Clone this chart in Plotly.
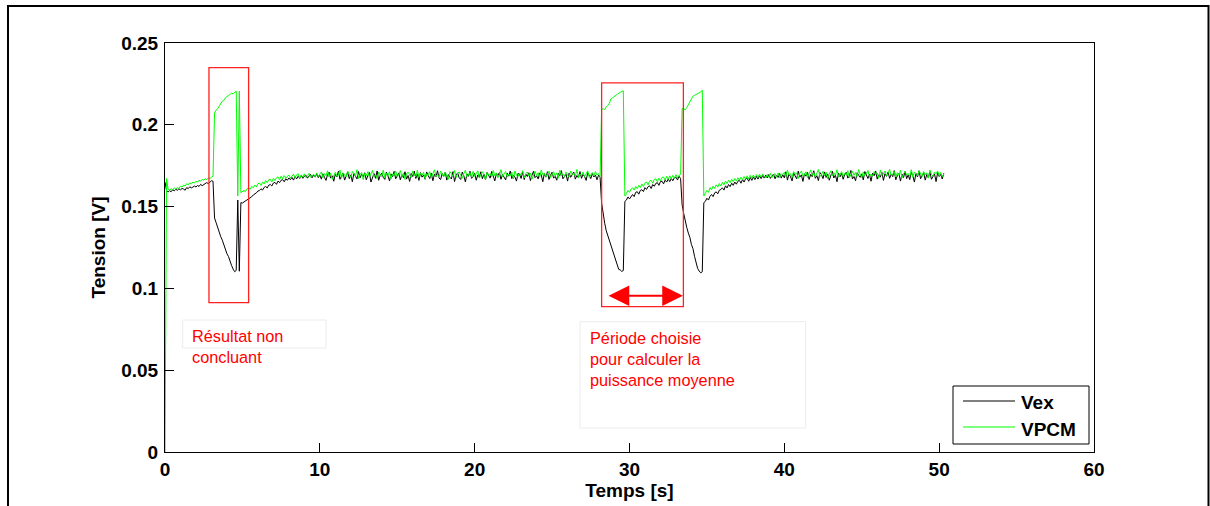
import plotly.graph_objects as go

# ---------------- data (units of 0.1 mV) ----------------
SAMPLE_STEP = 0.1  # seconds between samples

vex_01mV = [
    1650, 1598, 1590, 1597, 1591, 1603, 1596, 1606, 1600, 1609,
    1602, 1611, 1607, 1600, 1616, 1610, 1621, 1614, 1619, 1626,
    1620, 1629, 1623, 1636, 1628, 1633, 1641, 1647, 1640, 1652,
    1658, 1655,
    1430, 1402, 1368, 1350, 1316, 1295, 1262, 1240,
    1212, 1195, 1160, 1140, 1118, 1102, 1110, 1540, 1105, 1524,
    1522, 1528, 1533, 1541, 1548, 1556, 1560, 1571, 1577, 1584,
    1595, 1598, 1609, 1601, 1617, 1623, 1614, 1631, 1635, 1626,
    1644, 1648, 1636, 1656, 1647, 1661, 1665, 1652, 1670, 1661,
    1675, 1664, 1679, 1662, 1684, 1669, 1686, 1672, 1690, 1673,
    1686, 1692, 1674, 1689, 1697, 1676, 1693, 1680, 1700, 1677,
    1692, 1668, 1701, 1679, 1660, 1697, 1710, 1674, 1688, 1655,
    1699, 1681, 1716, 1667, 1690, 1705, 1662, 1684, 1712, 1671,
    1694, 1652, 1703, 1686, 1669, 1714, 1676, 1698, 1681, 1707,
    1664, 1689, 1709, 1650, 1683, 1702, 1673, 1718, 1661, 1691,
    1704, 1678, 1666, 1711, 1687, 1657, 1700, 1682, 1715, 1670,
    1688, 1706, 1663, 1695, 1677, 1713, 1668, 1690, 1654, 1703,
    1684, 1717, 1672, 1699, 1660, 1708, 1680, 1693, 1667, 1712,
    1689, 1671, 1705, 1658, 1697, 1683, 1719, 1675, 1665, 1702,
    1686, 1710, 1662, 1696, 1679, 1669, 1714, 1653, 1692, 1706,
    1676, 1666, 1711, 1688, 1651, 1700, 1685, 1716, 1673, 1684,
    1704, 1661, 1694, 1680, 1713, 1670, 1698, 1664, 1709, 1687,
    1674, 1715, 1682, 1657, 1701, 1690, 1708, 1667, 1696, 1678,
    1663, 1705, 1686, 1718, 1671, 1693, 1681, 1656, 1703, 1697,
    1672, 1712, 1665, 1699, 1684, 1707, 1659, 1691, 1716, 1677,
    1688, 1669, 1706, 1694, 1652, 1702, 1680, 1713, 1666, 1692,
    1710, 1674, 1685, 1661, 1704, 1689, 1720, 1670, 1687, 1698,
    1656, 1705, 1679, 1695, 1711, 1668, 1690, 1676, 1714, 1673,
    1697, 1683, 1660, 1708, 1688, 1671, 1703, 1681, 1693, 1664,
    1692, 1678,
    1520, 1445, 1398, 1352, 1322, 1290, 1272, 1236, 1203, 1168,
    1140, 1117, 1113, 1104, 1109, 1532,
    1540, 1559, 1547, 1565, 1574, 1561, 1587, 1591, 1576, 1599,
    1603, 1592, 1616, 1605, 1622, 1627, 1611, 1635, 1624, 1642,
    1646, 1630, 1653, 1655, 1639, 1662, 1650, 1668, 1653, 1673,
    1658, 1677, 1680, 1663, 1685, 1671,
    1510, 1458, 1402, 1372, 1338, 1312, 1268, 1243, 1196, 1152,
    1122, 1106, 1095, 1102, 1524,
    1532, 1551, 1540, 1563, 1574, 1561, 1584, 1590, 1578, 1600,
    1604, 1615, 1601, 1627, 1614, 1635, 1622, 1643, 1630, 1650,
    1637, 1655, 1661, 1643, 1666, 1650, 1670, 1673, 1655, 1678,
    1660, 1681, 1665, 1684, 1668, 1688, 1671, 1690, 1674, 1693,
    1675, 1696, 1672, 1689, 1699, 1670, 1692, 1678, 1702, 1674,
    1695,
    1676, 1713, 1662, 1698, 1684, 1657, 1705, 1690, 1670, 1717,
    1680, 1694, 1654, 1701, 1686, 1709, 1666, 1697, 1683, 1719,
    1673, 1689, 1659, 1708, 1695, 1671, 1712, 1678, 1699, 1661,
    1687, 1716, 1675, 1693, 1652, 1706, 1682, 1703, 1667, 1696,
    1710, 1674, 1688, 1721, 1669, 1684, 1658, 1707, 1692, 1679,
    1700, 1663, 1714, 1686, 1672, 1698, 1655, 1704, 1689, 1718,
    1668, 1694, 1680, 1709, 1660, 1701, 1685, 1711, 1673, 1697,
    1683, 1720, 1664, 1690, 1702, 1656, 1699, 1678, 1715, 1671,
    1693, 1665, 1710, 1687, 1650, 1703, 1681, 1719, 1670, 1691,
    1706, 1662, 1696, 1677, 1713, 1667, 1689, 1700, 1653, 1708,
    1684, 1697, 1669, 1704,
]

vpcm_01mV = [
    0, 1672, 1606, 1601, 1610, 1604, 1613, 1608, 1617, 1611,
    1625, 1619, 1632, 1626, 1640, 1633, 1645, 1638, 1650, 1644,
    1655, 1649, 1661, 1656, 1667, 1660, 1671, 1665, 1676, 1670,
    1681, 1686,
    2072, 2090, 2098, 2115, 2128, 2145, 2150, 2162,
    2174, 2178, 2185, 2194, 2190, 2200, 2205, 1565, 2205, 1585,
    1590, 1599, 1591, 1609, 1617, 1606, 1624, 1615, 1632, 1621,
    1640, 1644, 1629, 1651, 1638, 1660, 1646, 1664, 1668, 1651,
    1673, 1659, 1676, 1682, 1664, 1686, 1670, 1690, 1673, 1687,
    1693, 1674, 1690, 1698, 1676, 1695, 1701, 1674, 1694, 1680,
    1700, 1678, 1685, 1704, 1679, 1692, 1698, 1681, 1706, 1684,
    1698, 1712, 1676, 1701, 1689, 1719, 1680, 1705, 1667, 1694,
    1710, 1684, 1696, 1724, 1673, 1707, 1690, 1681, 1716, 1693,
    1678, 1715, 1700, 1686, 1726, 1671, 1697, 1709, 1665, 1703,
    1688, 1714, 1679, 1701, 1721, 1684, 1695, 1672, 1711, 1692,
    1685, 1723, 1675, 1704, 1690, 1713, 1668, 1699, 1694, 1718,
    1680, 1696, 1720, 1683, 1706, 1666, 1702, 1711, 1689, 1677,
    1716, 1693, 1682, 1722, 1679, 1705, 1691, 1710, 1670, 1700,
    1694, 1714, 1676, 1707, 1725, 1685, 1697, 1681, 1717, 1699,
    1683, 1711, 1692, 1667, 1714, 1696, 1686, 1720, 1677, 1704,
    1712, 1690, 1673, 1701, 1723, 1682, 1695, 1708, 1680, 1716,
    1685, 1703, 1719, 1674, 1698, 1713, 1691, 1665, 1709, 1694,
    1700, 1682, 1721, 1689, 1706, 1676, 1697, 1726, 1684, 1703,
    1715, 1680, 1699, 1688, 1710, 1669, 1718, 1693, 1683, 1705,
    1692, 1720, 1675, 1701, 1712, 1686, 1704, 1668, 1696, 1716,
    1689, 1707, 1679, 1724, 1694, 1702, 1682, 1699, 1717, 1677,
    1697, 1713, 1686, 1706, 1673, 1722, 1690, 1700, 1683, 1711,
    1693, 1681, 1718, 1696, 1703, 1685, 1727, 1676, 1699, 1690,
    1712, 1684, 1700, 1719, 1679, 1695, 1708, 1687, 1714, 1693,
    1701, 1683,
    2095, 2098, 2092, 2110, 2118, 2132, 2158, 2165, 2172, 2182,
    2190, 2193, 2199, 2204, 2208, 1565,
    1578, 1599, 1587, 1607, 1614, 1601, 1623, 1609, 1630, 1616,
    1638, 1623, 1645, 1650, 1633, 1656, 1661, 1643, 1666, 1670,
    1652, 1674, 1657, 1678, 1681, 1662, 1685, 1667, 1688, 1671,
    1691, 1673, 1695, 1676, 1692, 1697,
    2100, 2098, 2092, 2106, 2124, 2140, 2158, 2175, 2180, 2186,
    2190, 2194, 2201, 2212, 1565,
    1582, 1599, 1587, 1616, 1602, 1625, 1611, 1633, 1619, 1641,
    1626, 1648, 1633, 1656, 1640, 1662, 1646, 1667, 1652, 1672,
    1656, 1676, 1661, 1680, 1663, 1684, 1667, 1688, 1670, 1691,
    1673, 1693, 1676, 1695, 1679, 1698, 1680, 1700, 1682, 1677,
    1697, 1679, 1703, 1676, 1696, 1701, 1680, 1706, 1678, 1699,
    1698,
    1710, 1683, 1722, 1694, 1701, 1679, 1715, 1697, 1706, 1672,
    1703, 1718, 1686, 1693, 1713, 1676, 1700, 1724, 1690, 1708,
    1681, 1702, 1727, 1684, 1695, 1716, 1689, 1711, 1670, 1699,
    1719, 1687, 1707, 1692, 1725, 1680, 1701, 1714, 1685, 1704,
    1693, 1720, 1675, 1700, 1717, 1691, 1709, 1682, 1726, 1696,
    1678, 1712, 1690, 1703, 1721, 1683, 1699, 1687, 1714, 1695,
    1706, 1673, 1723, 1692, 1700, 1718, 1686, 1704, 1728, 1690,
    1697, 1715, 1681, 1708, 1692, 1722, 1676, 1701, 1716, 1693,
    1703, 1685, 1726, 1679, 1712, 1697, 1688, 1719, 1702, 1684,
    1715, 1694, 1707, 1674, 1724, 1698, 1686, 1711, 1701, 1718,
    1689, 1709, 1683, 1700,
]

series_names = ["Vex", "VPCM"]
series_colors = ["#000000", "#00ff00"]

x_ticks = [0, 10, 20, 30, 40, 50, 60]
y_ticks = [0, 0.05, 0.1, 0.15, 0.2, 0.25]

vex = [v / 10000 for v in vex_01mV]
vpcm = [v / 10000 for v in vpcm_01mV]
t_vex = [k * SAMPLE_STEP for k in range(len(vex))]
t_vpcm = [k * SAMPLE_STEP for k in range(len(vpcm))]

# ---------------- geometry helpers (layout only) ----------------
W, H = 1210, 506
L, R, T, B = 165, 116, 43, 54
PW, PH = W - L - R, H - T - B


def px(xp):
    return (xp - L) / PW


def py(yp):
    return (H - B - yp) / PH


FONT = "Arial, 'Liberation Sans', Helvetica, sans-serif"

fig = go.Figure()
fig.add_trace(go.Scatter(x=t_vex, y=vex, mode="lines", name=series_names[0],
                         line=dict(color=series_colors[0], width=1), showlegend=False))
fig.add_trace(go.Scatter(x=t_vpcm, y=vpcm, mode="lines", name=series_names[1],
                         line=dict(color=series_colors[1], width=1), showlegend=False))

axis_font = dict(family=FONT, size=19, color="black", weight="bold")
common = dict(showline=True, linecolor="black", linewidth=1, mirror=True,
              ticks="inside", ticklen=9, tickcolor="black", tickwidth=1,
              showgrid=False, zeroline=False, tickfont=axis_font, automargin=False)

fig.update_xaxes(range=[0, 60], tickvals=x_ticks, **common,
                 title=dict(text="Temps [s]", font=axis_font, standoff=3))
fig.update_yaxes(range=[0, 0.25], tickvals=y_ticks, ticklabelstandoff=2, **common,
                 title=dict(text="Tension [V]", font=axis_font, standoff=10))

shapes = []
# outer frame
shapes.append(dict(type="rect", xref="paper", yref="paper",
                   x0=px(8), x1=px(1208.5), y0=py(530), y1=py(6),
                   line=dict(color="black", width=2), layer="above"))
# red boxes (data coords)
shapes.append(dict(type="rect", xref="x", yref="y", x0=2.84, x1=5.40, y0=0.0913, y1=0.2349,
                   line=dict(color="#ff2020", width=1.3)))
shapes.append(dict(type="rect", xref="x", yref="y", x0=28.2, x1=33.48, y0=0.0888, y1=0.2256,
                   line=dict(color="#ff2020", width=1.3)))
# faint text boxes
shapes.append(dict(type="rect", xref="paper", yref="paper",
                   x0=px(182.7), x1=px(326), y0=py(348), y1=py(320),
                   line=dict(color="#ececec", width=1)))
shapes.append(dict(type="rect", xref="paper", yref="paper",
                   x0=px(580), x1=px(805.7), y0=py(428), y1=py(321.7),
                   line=dict(color="#ececec", width=1)))
# legend box
shapes.append(dict(type="rect", xref="paper", yref="paper",
                   x0=px(953), x1=px(1089), y0=py(444), y1=py(386),
                   line=dict(color="black", width=1), fillcolor="white", layer="above"))
shapes.append(dict(type="line", xref="paper", yref="paper",
                   x0=px(963), x1=px(1015), y0=py(401), y1=py(401),
                   line=dict(color=series_colors[0], width=1.2), layer="above"))
shapes.append(dict(type="line", xref="paper", yref="paper",
                   x0=px(963), x1=px(1015), y0=py(427), y1=py(427),
                   line=dict(color=series_colors[1], width=1.2), layer="above"))

annotations = []
annotations.append(dict(xref="paper", yref="paper", x=px(1019), y=py(402), xanchor="left",
                        yanchor="middle", text=series_names[0], showarrow=False,
                        font=dict(family=FONT, size=19, color="black", weight="bold")))
annotations.append(dict(xref="paper", yref="paper", x=px(1019), y=py(429), xanchor="left",
                        yanchor="middle", text=series_names[1], showarrow=False,
                        font=dict(family=FONT, size=19, color="black", weight="bold")))
annotations.append(dict(xref="paper", yref="paper", x=px(190), y=py(325), xanchor="left",
                        yanchor="top", align="left", text="Résultat non<br>concluant",
                        showarrow=False, font=dict(family=FONT, size=16.3, color="red")))
annotations.append(dict(xref="paper", yref="paper", x=px(588), y=py(327), xanchor="left",
                        yanchor="top", align="left",
                        text="Période choisie<br>pour calculer la<br>puissance moyenne",
                        showarrow=False, font=dict(family=FONT, size=16.3, color="red")))
# double-headed arrow
annotations.append(dict(xref="x", yref="y", axref="x", ayref="y",
                        x=33.45, y=0.0955, ax=28.55, ay=0.0955, text="",
                        showarrow=True, arrowhead=2, startarrowhead=2, arrowside="end+start",
                        arrowsize=2.3, startarrowsize=2.3, arrowwidth=1.8, arrowcolor="red"))

fig.update_layout(width=W, height=H, margin=dict(l=L, r=R, t=T, b=B),
                  paper_bgcolor="white", plot_bgcolor="white",
                  shapes=shapes, annotations=annotations, showlegend=False,
                  font=dict(family=FONT))

fig.write_html("out.html", config={"displayModeBar": False},
               post_script="document.body.style.margin='0px';document.body.style.overflow='hidden';")
